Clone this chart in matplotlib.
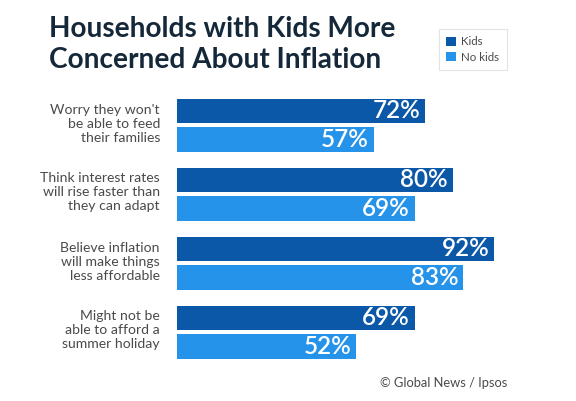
import numpy as np
import matplotlib
matplotlib.use("Agg")
import matplotlib.pyplot as plt

plt.rcParams['font.family'] = ['Lato', 'DejaVu Sans']

categories = [
    "Worry they won't\nbe able to feed\ntheir families",
    "Think interest rates\nwill rise faster than\nthey can adapt",
    "Believe inflation\nwill make things\nless affordable",
    "Might not be\nable to afford a\nsummer holiday",
]
kids = [72, 80, 92, 69]
no_kids = [57, 69, 83, 52]

dark = "#0c58a8"
light = "#2593ea"
title_col = "#15283a"
text_col = "#4a4a4a"

W, H = 576, 401
fig = plt.figure(figsize=(W / 100, H / 100), dpi=100)
fig.patch.set_facecolor("white")

# axes: bars start at x=177px, 100% = 345px; groups 69px apart
ax = fig.add_axes([177 / W, (H - 366.5) / H, 345 / W, 276 / H])
ax.set_xlim(0, 100)
ax.set_ylim(3.5, -0.5)
ax.axis("off")

y = np.arange(len(categories))
off = 14.25 / 69
bh = 24.5 / 69
b1 = ax.barh(y - off, kids, height=bh, color=dark, label="Kids")
b2 = ax.barh(y + off, no_kids, height=bh, color=light, label="No kids")

for bars, vals in ((b1, kids), (b2, no_kids)):
    for rect, v in zip(bars, vals):
        ax.annotate(f"{v}%", xy=(v, rect.get_y() + rect.get_height() / 2),
                    xytext=(-5, 0), textcoords="offset pixels",
                    ha="right", va="center", color="white", fontsize=17.5,
                    fontweight="semibold")

for i, cat in enumerate(categories):
    ax.annotate(cat, xy=(0, i), xytext=(-17, 1.5), textcoords="offset pixels",
                ha="right", va="center", color=text_col, fontsize=10.1,
                linespacing=1.2)

fig.text(49 / W, 1 - 37 / H, "Households with Kids More", fontsize=20.2,
         color=title_col, ha="left", va="baseline", fontweight="bold")
fig.text(49 / W, 1 - 67.5 / H, "Concerned About Inflation", fontsize=20.2,
         color=title_col, ha="left", va="baseline", fontweight="bold")

leg = ax.legend(handles=[b1, b2], loc="upper left",
                bbox_to_anchor=(433 / W, 1 - 23 / H), bbox_transform=fig.transFigure,
                fontsize=8.3, frameon=True, fancybox=False, edgecolor="#dddddd",
                handlelength=0.85, handleheight=0.85, handletextpad=0.45,
                labelspacing=0.4, borderpad=0.65, labelcolor=text_col)
leg.get_frame().set_linewidth(0.8)

fig.text(507 / W, 1 - 383 / H, "\u00a9 Global News / Ipsos", fontsize=9.3,
         color=text_col, ha="right", va="center")

fig.savefig("out.png", dpi=100)
